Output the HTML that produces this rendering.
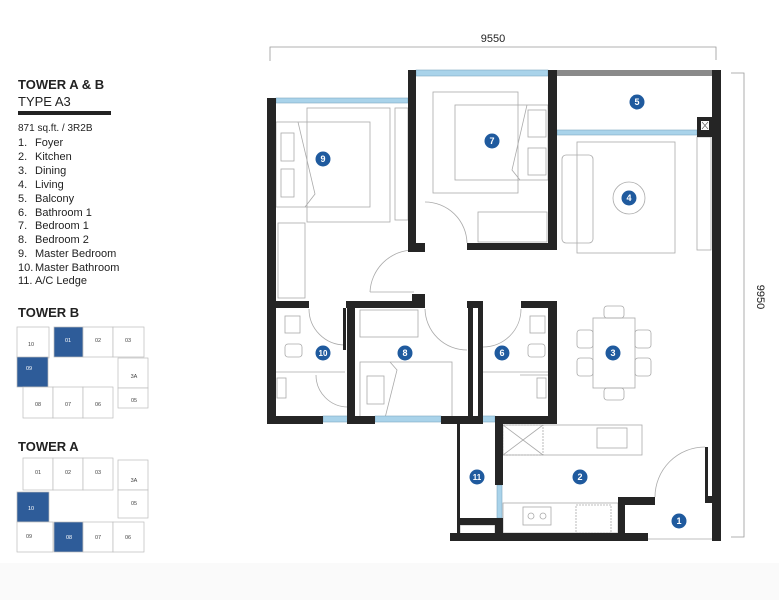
<!DOCTYPE html>
<html><head><meta charset="utf-8"><style>
html,body{margin:0;padding:0;background:#fff;}
svg{display:block;font-family:"Liberation Sans",sans-serif;}
</style></head><body>
<svg width="779" height="600" viewBox="0 0 779 600" xmlns="http://www.w3.org/2000/svg">
<rect x="0" y="563" width="779" height="37" fill="#fafafa"/>
<!-- left text -->
<g fill="#222">
<text x="18" y="89" font-size="13" font-weight="bold">TOWER A &amp; B</text>
<text x="18" y="106" font-size="13">TYPE A3</text>
<rect x="18" y="111" width="93" height="4"/>
<text x="18" y="131" font-size="10">871 sq.ft. / 3R2B</text>
<g font-size="11">
<text x="18" y="146">1.</text><text x="35" y="146">Foyer</text>
<text x="18" y="160">2.</text><text x="35" y="160">Kitchen</text>
<text x="18" y="174">3.</text><text x="35" y="174">Dining</text>
<text x="18" y="188">4.</text><text x="35" y="188">Living</text>
<text x="18" y="202">5.</text><text x="35" y="202">Balcony</text>
<text x="18" y="216">6.</text><text x="35" y="216">Bathroom 1</text>
<text x="18" y="229">7.</text><text x="35" y="229">Bedroom 1</text>
<text x="18" y="243">8.</text><text x="35" y="243">Bedroom 2</text>
<text x="18" y="257">9.</text><text x="35" y="257">Master Bedroom</text>
<text x="18" y="271">10.</text><text x="35" y="271">Master Bathroom</text>
<text x="18" y="284">11.</text><text x="35" y="284">A/C Ledge</text>
</g>
<text x="18" y="317" font-size="13" font-weight="bold">TOWER B</text>
<text x="18" y="451" font-size="13" font-weight="bold">TOWER A</text>
</g>
<!-- key plans -->
<g stroke="#bbb" stroke-width="0.7" fill="#fff" font-size="5.5" text-anchor="middle">
<rect x="17" y="327" width="32" height="31"/><text x="31" y="346" fill="#444" stroke="none">10</text>
<rect x="54" y="327" width="29" height="30" fill="#2e5c99"/><text x="68" y="342" fill="#fff" stroke="none">01</text>
<rect x="83" y="327" width="30" height="30"/><text x="98" y="342" fill="#444" stroke="none">02</text>
<rect x="113" y="327" width="31" height="30"/><text x="128" y="342" fill="#444" stroke="none">03</text>
<rect x="17" y="357" width="31" height="30" fill="#2e5c99"/><text x="29" y="370" fill="#fff" stroke="none">09</text>
<rect x="118" y="358" width="30" height="30"/><text x="134" y="378" fill="#444" stroke="none">3A</text>
<rect x="118" y="388" width="30" height="20"/><text x="134" y="402" fill="#444" stroke="none">05</text>
<rect x="23" y="387" width="30" height="31"/><text x="38" y="406" fill="#444" stroke="none">08</text>
<rect x="53" y="387" width="30" height="31"/><text x="68" y="406" fill="#444" stroke="none">07</text>
<rect x="83" y="387" width="30" height="31"/><text x="98" y="406" fill="#444" stroke="none">06</text>

<rect x="23" y="458" width="30" height="32"/><text x="38" y="474" fill="#444" stroke="none">01</text>
<rect x="53" y="458" width="30" height="32"/><text x="68" y="474" fill="#444" stroke="none">02</text>
<rect x="83" y="458" width="30" height="32"/><text x="98" y="474" fill="#444" stroke="none">03</text>
<rect x="118" y="460" width="30" height="30"/><text x="134" y="482" fill="#444" stroke="none">3A</text>
<rect x="118" y="490" width="30" height="28"/><text x="134" y="505" fill="#444" stroke="none">05</text>
<rect x="17" y="492" width="32" height="30" fill="#2e5c99"/><text x="31" y="510" fill="#fff" stroke="none">10</text>
<rect x="17" y="522" width="36" height="30"/><text x="29" y="538" fill="#444" stroke="none">09</text>
<rect x="54" y="522" width="29" height="30" fill="#2e5c99"/><text x="69" y="539" fill="#fff" stroke="none">08</text>
<rect x="83" y="522" width="30" height="30"/><text x="98" y="539" fill="#444" stroke="none">07</text>
<rect x="113" y="522" width="31" height="30"/><text x="128" y="539" fill="#444" stroke="none">06</text>
</g>
<!-- dimensions -->
<g stroke="#999" stroke-width="0.8" fill="none">
<polyline points="270,61 270,47 716,47 716,60"/>
<polyline points="731,73 744,73 744,537 731,537"/>
</g>
<text x="493" y="42" font-size="11" text-anchor="middle" fill="#222">9550</text>
<text x="0" y="0" font-size="11" text-anchor="middle" fill="#222" transform="translate(757,297) rotate(90)">9950</text>

<!-- furniture -->
<g stroke="#aaa" stroke-width="0.8" fill="none">
<rect x="307" y="108" width="83" height="114"/>
<rect x="276" y="122" width="94" height="85"/>
<rect x="281" y="133" width="13" height="28"/><rect x="281" y="169" width="13" height="28"/>
<path d="M298,122 L315,194 L305,207"/>
<rect x="395" y="108" width="13" height="112"/>
<rect x="278" y="223" width="27" height="75"/>
<rect x="433" y="92" width="85" height="101"/>
<rect x="455" y="105" width="93" height="75"/>
<rect x="528" y="110" width="18" height="27"/><rect x="528" y="148" width="18" height="27"/>
<path d="M527,105 L512,170 L520,180"/>
<rect x="478" y="212" width="69" height="30"/>
<rect x="562" y="155" width="31" height="88" rx="4"/>
<rect x="577" y="142" width="98" height="111"/>
<circle cx="629" cy="198" r="16"/>
<rect x="697" y="137" width="14" height="113"/>
<rect x="593" y="318" width="42" height="70"/>
<rect x="604" y="306" width="20" height="12" rx="3"/><rect x="604" y="388" width="20" height="12" rx="3"/>
<rect x="577" y="330" width="16" height="18" rx="3"/><rect x="577" y="358" width="16" height="18" rx="3"/>
<rect x="635" y="330" width="16" height="18" rx="3"/><rect x="635" y="358" width="16" height="18" rx="3"/>
<rect x="360" y="310" width="58" height="27"/>
<rect x="360" y="362" width="92" height="56"/>
<rect x="367" y="376" width="17" height="28"/>
<path d="M390,362 L397,370 L385,418"/>
<rect x="285" y="316" width="15" height="17"/><rect x="285" y="344" width="17" height="13" rx="3"/>
<rect x="530" y="316" width="15" height="17"/><rect x="528" y="344" width="17" height="13" rx="3"/>
<rect x="503" y="425" width="139" height="30"/>
<rect x="503" y="425" width="40" height="30" stroke-dasharray="2,1"/>
<path d="M503,425 L543,455 M543,425 L503,455"/>
<rect x="597" y="428" width="30" height="20"/>
<rect x="503" y="503" width="115" height="30"/>
<rect x="523" y="507" width="28" height="18"/>
<circle cx="531" cy="516" r="3"/><circle cx="543" cy="516" r="3"/>
<rect x="576" y="505" width="35" height="28" stroke-dasharray="2,1"/>
<!-- doors -->
<path d="M425,202 A42,42 0 0 1 467,243"/>
<path d="M370,292 A44,44 0 0 1 414,250"/>
<line x1="370" y1="292" x2="414" y2="292"/>
<path d="M425,309 A42,42 0 0 0 467,350"/>
<path d="M521,309 A38,38 0 0 1 483,347"/>
<path d="M309,309 A36,36 0 0 0 345,345"/>
<path d="M655,497 A50,50 0 0 1 705,447"/>
<path d="M316,375 A32,32 0 0 0 348,407"/>
<path d="M548,375 L520,375"/>
<line x1="276" y1="372" x2="345" y2="372"/>
<line x1="483" y1="372" x2="548" y2="372"/>
<rect x="277" y="378" width="9" height="20"/><rect x="537" y="378" width="9" height="20"/>
<line x1="648" y1="539" x2="712" y2="539"/>
<rect x="460" y="525" width="35" height="9"/>
</g>
<!-- windows -->
<g fill="#a9d3ea" stroke="#7fa9c2" stroke-width="0.6">
<rect x="276" y="98" width="132" height="5"/>
<rect x="416" y="70" width="132" height="6"/>
<rect x="557" y="130" width="140" height="5"/>
<rect x="323" y="416" width="27" height="6"/>
<rect x="375" y="416" width="66" height="6"/>
<rect x="478" y="416" width="17" height="6"/>
<rect x="497" y="485" width="5" height="33"/>
</g>
<rect x="557" y="70" width="155" height="6" fill="#8a8a8a"/>
<!-- walls -->
<g fill="#252525">
<rect x="267" y="98" width="9" height="325"/>
<rect x="267" y="416" width="56" height="8"/>
<rect x="350" y="416" width="25" height="8"/>
<rect x="441" y="416" width="37" height="8"/>
<rect x="495" y="416" width="62" height="8"/>
<rect x="267" y="301" width="42" height="7"/>
<rect x="346" y="301" width="79" height="7"/>
<rect x="412" y="294" width="13" height="14"/>
<rect x="467" y="301" width="14" height="7"/>
<rect x="521" y="301" width="36" height="7"/>
<rect x="343" y="308" width="3" height="42"/>
<rect x="347" y="301" width="8" height="123"/>
<rect x="468" y="301" width="5" height="123"/>
<rect x="478" y="301" width="5" height="123"/>
<rect x="548" y="301" width="9" height="123"/>
<rect x="408" y="70" width="8" height="182"/>
<rect x="408" y="243" width="17" height="9"/>
<rect x="548" y="70" width="9" height="180"/>
<rect x="467" y="243" width="90" height="7"/>
<rect x="712" y="70" width="9" height="471"/>
<rect x="697" y="117" width="15" height="20"/>
<rect x="457" y="424" width="3" height="117"/>
<rect x="450" y="533" width="198" height="8"/>
<rect x="460" y="518" width="37" height="7"/>
<rect x="495" y="424" width="8" height="61"/>
<rect x="495" y="518" width="8" height="15"/>
<rect x="618" y="497" width="37" height="8"/>
<rect x="618" y="497" width="7" height="40"/>
<rect x="705" y="447" width="3" height="56"/>
<rect x="705" y="496" width="7" height="7"/>
</g>
<rect x="701" y="121" width="8" height="9" fill="#fff"/>
<path d="M702,122 L708,129 M708,122 L702,129" stroke="#555" stroke-width="0.6"/>
<!-- markers -->
<g fill="#1f5a9e">
<circle cx="323" cy="159" r="7.5"/><circle cx="492" cy="141" r="7.5"/>
<circle cx="637" cy="102" r="7.5"/><circle cx="629" cy="198" r="7.5"/>
<circle cx="613" cy="353" r="7.5"/><circle cx="323" cy="353" r="7.5"/>
<circle cx="405" cy="353" r="7.5"/><circle cx="502" cy="353" r="7.5"/>
<circle cx="477" cy="477" r="7.5"/><circle cx="580" cy="477" r="7.5"/>
<circle cx="679" cy="521" r="7.5"/>
</g>
<g fill="#fff" font-size="9" font-weight="bold" text-anchor="middle">
<text x="323" y="162">9</text><text x="492" y="144">7</text>
<text x="637" y="105">5</text><text x="629" y="201">4</text>
<text x="613" y="356">3</text><text x="323" y="356" font-size="8">10</text>
<text x="405" y="356">8</text><text x="502" y="356">6</text>
<text x="477" y="480" font-size="8">11</text><text x="580" y="480">2</text>
<text x="679" y="524">1</text>
</g>
</svg>
</body></html>
